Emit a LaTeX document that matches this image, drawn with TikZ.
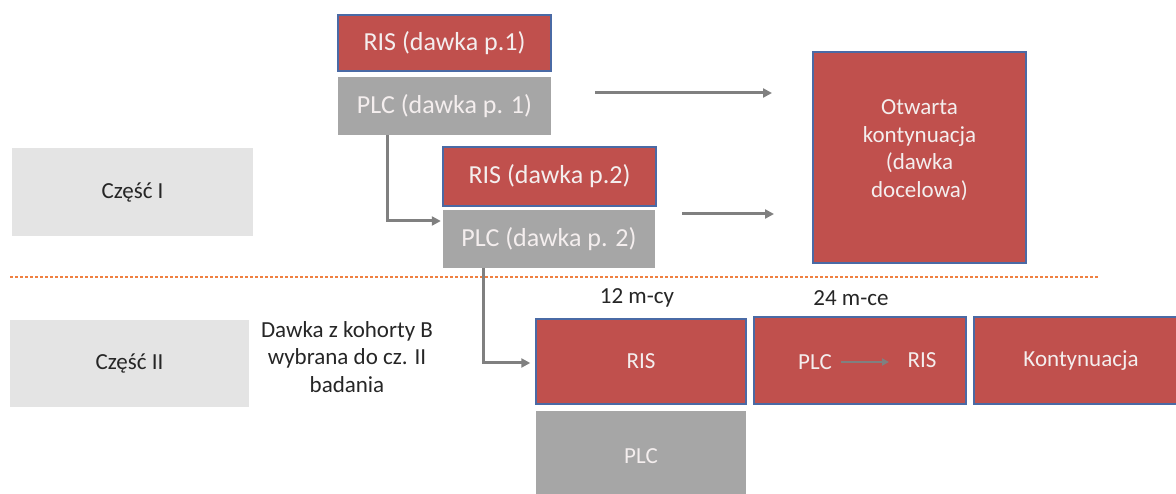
\documentclass[tikz,border=0pt]{standalone}
\usepackage{fontspec}
\setmainfont{Carlito}
\usetikzlibrary{arrows.meta}
\definecolor{boxred}{HTML}{C0504D}
\definecolor{boxblue}{HTML}{4A6AA5}
\definecolor{boxgray}{HTML}{A6A6A6}
\definecolor{partgray}{HTML}{E4E4E4}
\definecolor{arrgray}{HTML}{808080}
\definecolor{dashorange}{HTML}{F08040}
\definecolor{txtlight}{HTML}{F4EEEE}
\definecolor{txtdark}{HTML}{262626}
\tikzset{
  base/.style={rectangle, inner sep=0pt, font=\fontsize{23}{27.5}\selectfont, align=center},
  bigtxt/.style={font=\fontsize{26}{30}\selectfont},
  redbox/.style={base, fill=boxred, draw=boxblue, line width=1.5pt, text=txtlight},
  graybox/.style={base, fill=boxgray, text=txtlight},
  partbox/.style={base, fill=partgray, text=txtdark},
  plain/.style={base, text=txtdark},
  inlbl/.style={base, text=txtlight},
  arr/.style={draw=arrgray, line width=3pt, -{Triangle[length=9pt,width=9pt]}},
  thinarr/.style={draw=arrgray, line width=2pt, -{Triangle[length=7pt,width=7pt]}},
}
\begin{document}
\begin{tikzpicture}[x=1pt,y=-1pt]
\useasboundingbox (0,0) rectangle (1176,494);
\clip (0,0) rectangle (1176,494);
\fill[white] (0,0) rectangle (1176,494);
% Part I
\node[redbox, bigtxt, minimum width=213pt, minimum height=56pt] (ris1) at (444.5,43) {RIS (dawka p.1)};
\node[graybox, bigtxt, minimum width=213pt, minimum height=58pt] (plc1) at (444.5,106) {PLC (dawka p. 1)};
\node[redbox, bigtxt, minimum width=213pt, minimum height=59pt] (ris2) at (549.5,176.5) {RIS (dawka p.2)};
\node[graybox, bigtxt, minimum width=212pt, minimum height=58pt] (plc2) at (549,239) {PLC (dawka p. 2)};
\node[redbox, minimum width=213pt, minimum height=211pt] (open) at (919.5,157.5) {};
\node[inlbl] (opentxt) at (919.5,150) {Otwarta\\kontynuacja\\(dawka\\docelowa)};
\node[partbox, minimum width=241pt, minimum height=88pt] (part1) at (132.5,192) {Część I};
% connectors part I
\coordinate (a1s) at (595,93);
\coordinate (a1e) at (772,93);
\coordinate (a2s) at (682,214);
\coordinate (a2e) at (774,214);
\draw[arr] (a1s) -- (a1e);
\draw[arr] (a2s) -- (a2e);
\draw[arr] (387,0 |- plc1.south) -- (387,221) -- ([xshift=-2pt]plc2.west |- 0,221);
% divider
\draw[dashorange, line width=1.2pt, dash pattern=on 3pt off 2pt] (10,277) -- (1098,277);
% Part II
\node[partbox, minimum width=239pt, minimum height=87pt] (part2) at (129.5,363.5) {Część II};
\node[plain] (dawka) at (347,357) {Dawka z kohorty B\\wybrana do cz. II\\badania};
\node[plain] (m12) at (637,298) {12 m-cy};
\node[plain] (m24) at (851,298) {24 m-ce};
\node[redbox, minimum width=210pt, minimum height=85pt] (ris3) at (641,361.5) {RIS};
\node[graybox, minimum width=210pt, minimum height=90pt] (plc3) at (641,456) {PLC};
\node[redbox, minimum width=212pt, minimum height=87pt] (sw) at (860,360.5) {};
\node[inlbl] (plcA) at (815,362) {PLC};
\node[inlbl] (risA) at (922,360) {RIS};
\draw[thinarr] ([xshift=9pt]plcA.east |- 0,362) -- (889,362);
\node[redbox, minimum width=214pt, minimum height=87pt] (kont) at (1081,360.5) {Kontynuacja};
\draw[arr] (483,0 |- plc2.south) -- (483,363) -- ([xshift=-5pt]ris3.west |- 0,363);
\end{tikzpicture}
\end{document}
